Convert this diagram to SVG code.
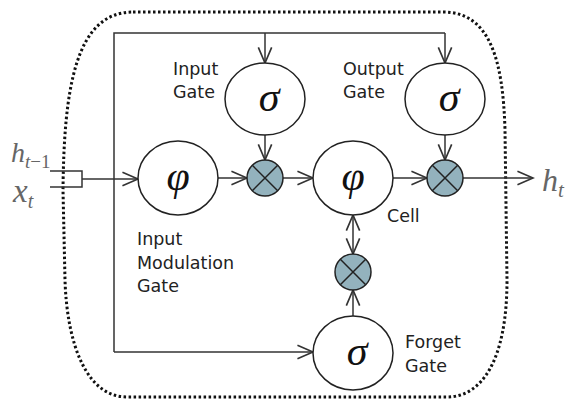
<svg xmlns="http://www.w3.org/2000/svg" width="571" height="400" viewBox="0 0 571 400">
<defs>
<marker id="arr" markerUnits="userSpaceOnUse" markerWidth="20" markerHeight="20" refX="0" refY="0" viewBox="-16 -8 18 16" orient="auto">
<path d="M-14,-6 L0,0 L-14,6" fill="none" stroke="#333" stroke-width="1.5"/>
</marker>
<marker id="arrs" markerUnits="userSpaceOnUse" markerWidth="20" markerHeight="20" refX="0" refY="0" viewBox="-16 -8 18 16" orient="auto-start-reverse">
<path d="M-14,-6 L0,0 L-14,6" fill="none" stroke="#333" stroke-width="1.5"/>
</marker>
</defs>
<style>
.ln{fill:none;stroke:#333;stroke-width:1.5}
.node{fill:#fff;stroke:#222;stroke-width:1.5}
.mul{fill:#93b2bd;stroke:#222;stroke-width:1.5}
.x{stroke:#222;stroke-width:1.5}
.sym{font-family:"Liberation Serif",serif;font-style:italic;font-size:42px;fill:#111;text-anchor:middle}
.lbl{font-family:"DejaVu Sans",sans-serif;font-size:17.5px;fill:#222}
.math{font-family:"Liberation Serif",serif;font-style:italic;fill:#666}
</style>
<rect width="571" height="400" fill="#fff"/>
<path d="M133,12 L443,12 C490,12 503,60 505,130 L507,280 C507,360 482,397 447,397 L127,397 C87,397 67,345 65,280 L63,190 C64,90 75,12 133,12 Z" fill="none" stroke="#111" stroke-width="3" stroke-dasharray="2.5 2.5"/>
<g id="connectors">
<path class="ln" d="M50,171 L82,171 L82,187 L50,187"/>
<line class="ln" x1="82" y1="179" x2="138" y2="179" marker-end="url(#arr)"/>
<polyline class="ln" points="445,33 114,33 114,352"/>
<line class="ln" x1="265" y1="33" x2="265" y2="63" marker-end="url(#arr)"/>
<line class="ln" x1="445" y1="33" x2="445" y2="63" marker-end="url(#arr)"/>
<line class="ln" x1="114" y1="352" x2="313" y2="352" marker-end="url(#arr)"/>
<line class="ln" x1="218" y1="178" x2="247" y2="178" marker-end="url(#arr)"/>
<line class="ln" x1="265" y1="135" x2="265" y2="160" marker-end="url(#arr)"/>
<line class="ln" x1="283" y1="178" x2="313" y2="178" marker-end="url(#arr)"/>
<line class="ln" x1="393" y1="178" x2="427" y2="178" marker-end="url(#arr)"/>
<line class="ln" x1="445" y1="135" x2="445" y2="160" marker-end="url(#arr)"/>
<line class="ln" x1="463" y1="178" x2="533" y2="178" marker-end="url(#arr)"/>
<line class="ln" x1="353" y1="215" x2="353" y2="254" marker-start="url(#arrs)" marker-end="url(#arrs)"/>
<line class="ln" x1="353" y1="316" x2="353" y2="290" marker-end="url(#arr)"/>
</g>
<g id="input-gate">
<ellipse class="node" cx="265" cy="99" rx="40" ry="36"/>
<text class="sym" x="269" y="111">σ</text>
<text class="lbl" x="173" y="75">Input</text>
<text class="lbl" x="173" y="98">Gate</text>
</g>
<g id="output-gate">
<ellipse class="node" cx="445" cy="99" rx="40" ry="36"/>
<text class="sym" x="449" y="111">σ</text>
<text class="lbl" x="343" y="75">Output</text>
<text class="lbl" x="343" y="98">Gate</text>
</g>
<g id="input-modulation-gate">
<ellipse class="node" cx="178" cy="178" rx="40" ry="37"/>
<text class="sym" x="178" y="190">φ</text>
<text class="lbl" x="137" y="245">Input</text>
<text class="lbl" x="137" y="269">Modulation</text>
<text class="lbl" x="137" y="292">Gate</text>
</g>
<g id="cell">
<ellipse class="node" cx="353" cy="178" rx="40" ry="37"/>
<text class="sym" x="353" y="190">φ</text>
<text class="lbl" x="387" y="222">Cell</text>
</g>
<g id="forget-gate">
<ellipse class="node" cx="353" cy="353" rx="40" ry="37"/>
<text class="sym" x="357" y="365">σ</text>
<text class="lbl" x="405" y="348">Forget</text>
<text class="lbl" x="405" y="372">Gate</text>
</g>
<g id="mul-input">
<circle class="mul" cx="265" cy="178" r="18"/>
<path class="x" d="M252.3,165.3 L277.7,190.7 M277.7,165.3 L252.3,190.7"/>
</g>
<g id="mul-output">
<circle class="mul" cx="445" cy="178" r="18"/>
<path class="x" d="M432.3,165.3 L457.7,190.7 M457.7,165.3 L432.3,190.7"/>
</g>
<g id="mul-forget">
<circle class="mul" cx="353" cy="272" r="18"/>
<path class="x" d="M340.3,259.3 L365.7,284.7 M365.7,259.3 L340.3,284.7"/>
</g>
<g id="input-labels">
<text class="math" x="11" y="162" font-size="28">h<tspan font-size="19" dy="6">t</tspan><tspan font-style="normal" font-size="19">−1</tspan></text>
<text class="math" x="13" y="202" font-size="33">x<tspan font-size="20" dy="6">t</tspan></text>
</g>
<g id="output-label">
<text class="math" x="542" y="191" font-size="32" fill="#555">h<tspan font-size="21" dy="6">t</tspan></text>
</g>
</svg>
